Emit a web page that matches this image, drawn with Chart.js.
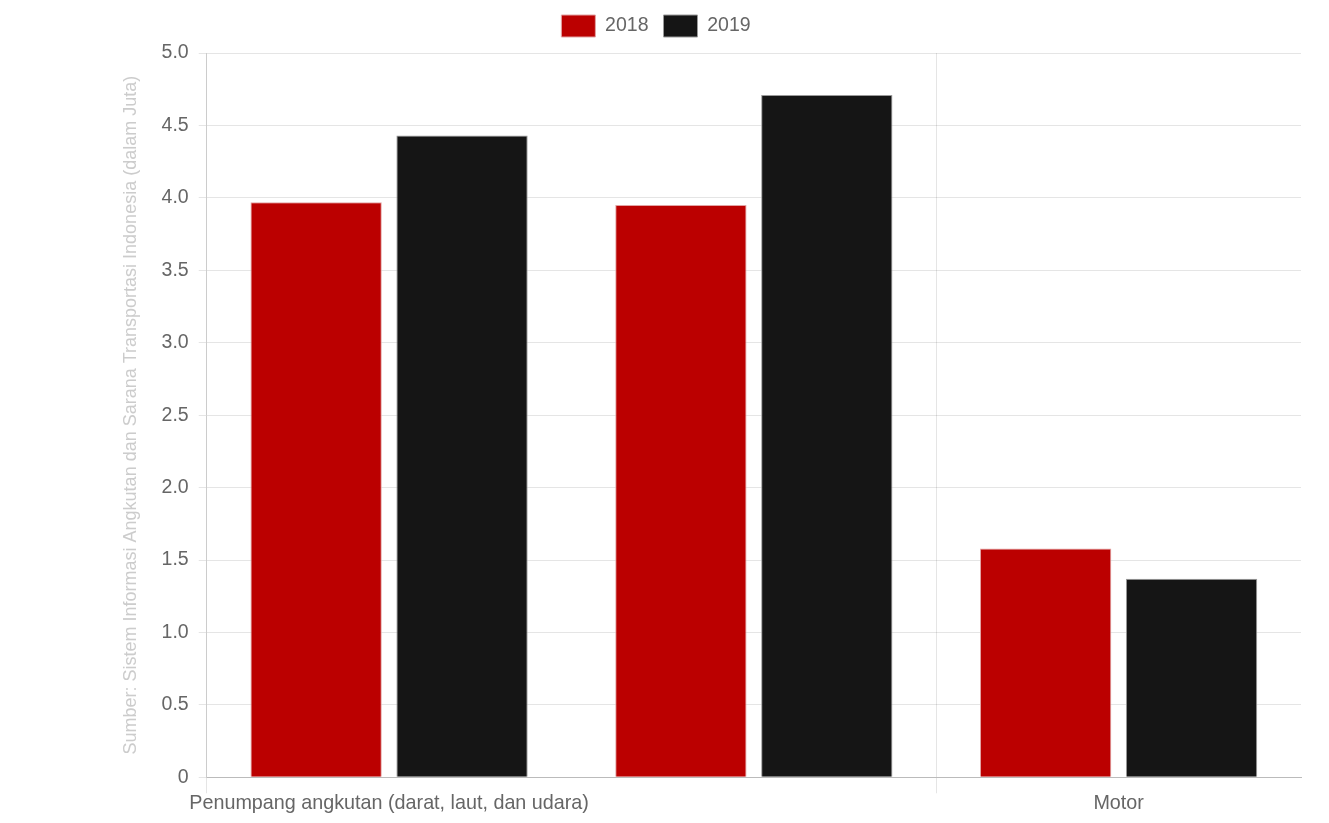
<!DOCTYPE html>
<html>
<head>
<meta charset="utf-8">
<script src="https://cdn.jsdelivr.net/npm/chart.js@4"></script>
<style>
  body { margin: 0; background: #fff; }
  #wrap { position: absolute; left: 0; top: 0; width: 1329px; height: 823px; }
</style>
</head>
<body>
<div id="wrap"><canvas id="grafik"></canvas></div>
<script>
/*DATA*/
const kategori = ["Penumpang angkutan (darat, laut, dan udara)", "Mobil penumpang", "Motor"]
const data2018 = [3.97, 3.95, 1.58]
const data2019 = [4.43, 4.71, 1.37]
const labelTahun = ["2018", "2019"]
const judulY = "Sumber: Sistem Informasi Angkutan dan Sarana Transportasi Indonesia (dalam Juta)"

Chart.defaults.font.family = "Arial, 'Liberation Sans', sans-serif"
Chart.defaults.font.size = 19.5
Chart.defaults.color = "#666"

// garis grid x hanya untuk label yang tampil (tengah dilewati)
const warnaGridX = (c) => (c.index === 0 || c.index === 2) ? "rgba(0,0,0,0.1)" : "rgba(0,0,0,0)"

// jarak tambahan di bawah legenda
const legendaJarak = {
    id: "legendaJarak",
    beforeInit(chart) {
        const fitAsli = chart.legend.fit
        chart.legend.fit = function () {
            fitAsli.bind(chart.legend)()
            this.height += 6
        }
    }
}

const ctx = document.querySelector("#grafik")
new Chart(ctx, {
    type: "bar",
    data: {
        labels: kategori,
        datasets: [
            { label: labelTahun[0], data: data2018, backgroundColor: "#bb0000", borderColor: "#e2a3a3", borderWidth: 1 },
            { label: labelTahun[1], data: data2019, backgroundColor: "#151515", borderColor: "#9a9a9a", borderWidth: 1 }
        ]
    },
    plugins: [legendaJarak],
    options: {
        responsive: true,
        maintainAspectRatio: false,
        animation: false,
        layout: { padding: { left: 11, right: 28, bottom: 10 } },
        plugins: {
            legend: {
                position: "top",
                labels: { boxWidth: 34, boxHeight: 22, padding: 15, color: "#666" }
            },
            tooltip: { enabled: false }
        },
        scales: {
            x: {
                ticks: {
                    maxRotation: 0,
                    autoSkip: false,
                    padding: -2,
                    color: "#666",
                    font: { size: 19.75 },
                    callback: function (val, i) { return i === 1 ? "" : this.getLabelForValue(val) }
                },
                grid: { tickLength: 16, color: warnaGridX },
                border: { color: "#bbb" }
            },
            y: {
                min: 0,
                max: 5,
                ticks: { stepSize: 0.5, color: "#666", padding: 10 },
                grid: { color: "rgba(0,0,0,0.1)" },
                border: { color: "#ccc" },
                title: {
                    display: true,
                    text: judulY,
                    color: "#ccc",
                    font: { size: 18 },
                    padding: { top: 109, bottom: 10 }
                }
            }
        }
    }
})
</script>
</body>
</html>
